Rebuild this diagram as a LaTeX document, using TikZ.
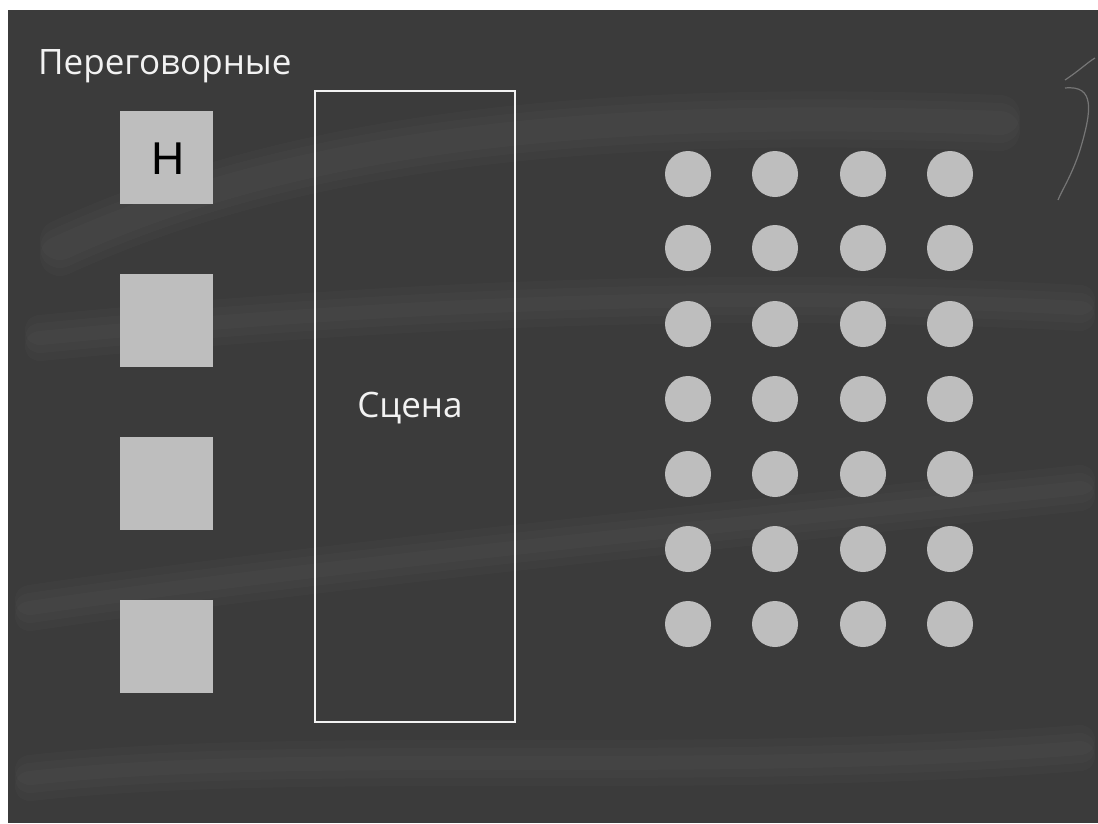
\documentclass[tikz,border=0pt]{standalone}
\usepackage{fontspec}
\setmainfont{Open Sans}
\newfontfamily\handfont{Liberation Sans}
\begin{document}
\begin{tikzpicture}[x=1pt,y=-1pt,
  room/.style={fill=roomgray,draw=none,minimum size=93pt,inner sep=0pt},
  seat/.style={circle,fill=roomgray,draw=none,minimum size=46pt,inner sep=0pt},
  chalktext/.style={text=chalkwhite,font=\fontsize{35}{40}\selectfont,inner sep=0pt},
  streak/.style={white,opacity=0.02,line width=#1,line cap=round}]
\definecolor{boardgray}{HTML}{3B3B3B}
\definecolor{roomgray}{HTML}{BEBEBE}
\definecolor{chalkwhite}{HTML}{F2F2F2}
\useasboundingbox (0,0) rectangle (1098,823);
\fill[white] (0,0) rectangle (1098,823);
\fill[boardgray] (8,10) rectangle (1098,823);
% chalk smudges
\foreach \o in {0,8,16}{
  \draw[streak=40pt] (60,240+\o) .. controls (300,130+\o) and (600,100+\o) .. (1000,115+\o);
  \draw[streak=30pt] (30,600+\o) .. controls (300,560+\o) and (700,520+\o) .. (1080,480+\o);
  \draw[streak=30pt] (40,330+\o) .. controls (350,300+\o) and (700,280+\o) .. (1080,300+\o);
  \draw[streak=30pt] (30,770+\o) .. controls (300,740+\o) and (700,770+\o) .. (1080,740+\o);
}
\draw[white,opacity=0.3,line width=1.2pt] (1065,80) .. controls (1080,70) and (1088,62) .. (1095,58);
\draw[white,opacity=0.3,line width=1.2pt] (1065,88) .. controls (1095,85) and (1092,110) .. (1080,150) .. controls (1072,175) and (1062,190) .. (1058,200);
% title
\node[chalktext,anchor=base west] (title) at (38,74) {Переговорные};
% meeting rooms
\node[room] (r1) at (166.5,157) {};
\node[room] (r2) at (166.5,320) {};
\node[room] (r3) at (166.5,483) {};
\node[room] (r4) at (166.5,646) {};
\node[text=black,font=\handfont\fontsize{46}{46}\selectfont,inner sep=0pt,anchor=base] (hmark) at (168,174) {Н};
% stage
\node[draw=chalkwhite,line width=2pt,minimum width=200pt,minimum height=631pt,inner sep=0pt] (stage) at (415,406.5) {};
\node[chalktext,anchor=base] (stagelabel) at (410,417) {Сцена};
% audience seats
\foreach \c/\x in {1/688,2/775,3/863,4/950}{
  \foreach \r/\y in {1/174,2/248,3/324,4/399,5/474,6/549,7/624}{
    \node[seat] (s\r\c) at (\x,\y) {};
  }
}
\end{tikzpicture}
\end{document}
